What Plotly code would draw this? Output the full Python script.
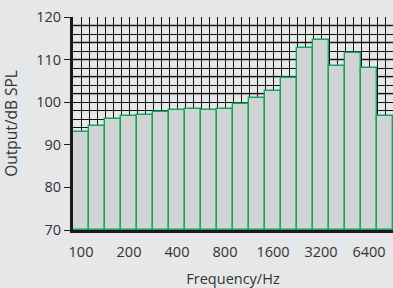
import plotly.graph_objects as go

# --- data ---
band_index = list(range(20))
band_freqs = ["100", "125", "160", "200", "250", "315", "400", "500", "630", "800",
              "1000", "1250", "1600", "2000", "2500", "3150", "4000", "5000", "6300", "8000"]
output_db = [92.9, 94.4, 96.0, 96.7, 97.0, 97.7, 98.2, 98.3, 98.2, 98.4,
             99.5, 100.9, 102.7, 105.7, 112.7, 114.5, 108.5, 111.5, 108.0, 96.7]
x_tick_pos = [0, 3, 6, 9, 12, 15, 18]
x_tick_text = ["100", "200", "400", "800", "1600", "3200", "6400"]
y_ticks = [70, 80, 90, 100, 110, 120]
gray_grid = [102, 106, 110, 114, 118]

BG = "#e6e7e8"
FONT = "Open Sans"

# gridlines every half band; labels only at chosen bands
grid_x = [i * 0.5 - 0.5 for i in range(41)]
label_map = dict(zip(x_tick_pos, x_tick_text))
grid_text = [label_map.get(v, "") if float(v).is_integer() else "" for v in grid_x]

fig = go.Figure()
fig.add_trace(go.Bar(
    x=band_index, y=[v - 70 for v in output_db], base=70,
    marker=dict(color="#d2d3d4", line=dict(color="#13a85a", width=1.4)),
    width=1.0, hoverinfo="skip",
))

for g in gray_grid:
    fig.add_shape(type="line", xref="paper", x0=0, x1=1, yref="y", y0=g, y1=g,
                  line=dict(color="#8a8a8a", width=2), layer="between")

fig.update_layout(
    width=393, height=288,
    margin=dict(l=73, r=0, t=17, b=58),
    paper_bgcolor=BG, plot_bgcolor=BG,
    bargap=0, showlegend=False,
    font=dict(family=FONT, color="#333333", size=14),
    xaxis=dict(
        type="linear",
        range=[-0.5, 19.5], tickmode="array", tickvals=grid_x, ticktext=grid_text,
        showgrid=True, gridcolor="#111111", gridwidth=1, automargin=False,
        showline=True, linecolor="#1a1a1a", linewidth=3, ticks="", zeroline=False,
        ticklabelstandoff=7,
        tickfont=dict(size=14.5, color="#333333"),
        title=dict(text="Frequency/Hz", font=dict(size=14.5, color="#333333")),
    ),
    yaxis=dict(
        range=[70, 120], tickmode="array", tickvals=y_ticks, automargin=False,
        showgrid=True, gridcolor="#111111", gridwidth=1,
        minor=dict(dtick=2, tick0=70, showgrid=True, gridcolor="#111111", gridwidth=1, ticks=""),
        showline=True, linecolor="#1a1a1a", linewidth=3,
        ticks="outside", ticklen=6, tickcolor="#1a1a1a", tickwidth=1.3, zeroline=False,
        tickfont=dict(size=14.5, color="#333333"),
        title=dict(text="Output/dB SPL", font=dict(size=15.5, color="#333333")),
    ),
)

fig.write_html("out.html", config={"displayModeBar": False},
               post_script="document.body.style.margin='0';")
